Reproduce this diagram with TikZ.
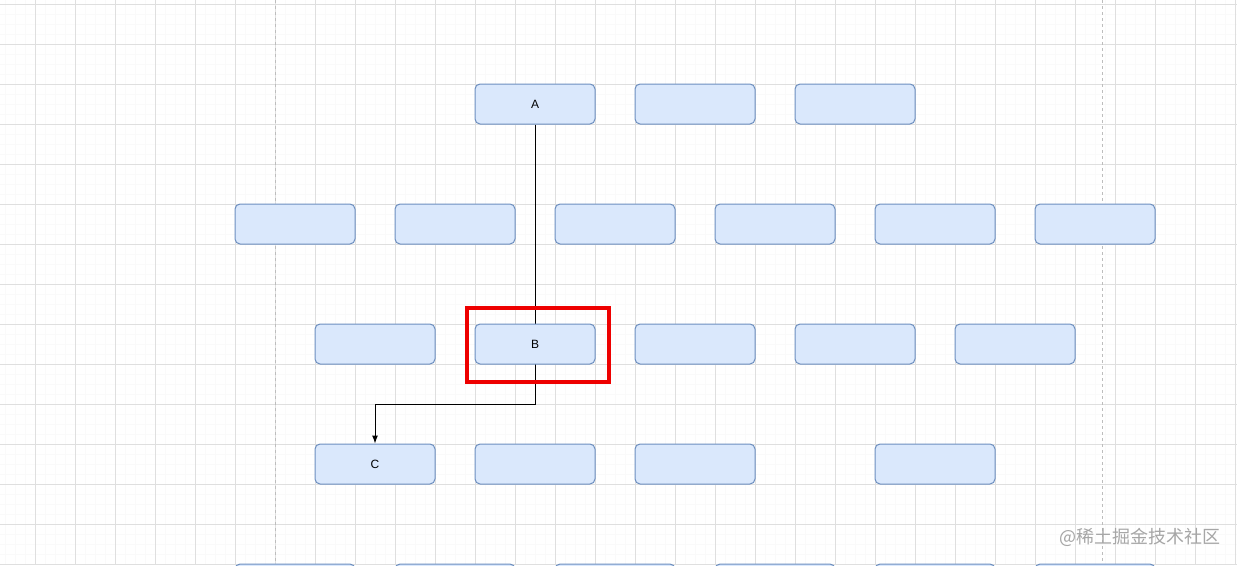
\documentclass[tikz,border=0pt]{standalone}
\usepackage{fontspec}
\setmainfont{Liberation Sans}
\newfontfamily\cjkfont{Noto Sans CJK SC}
\usepackage{xcolor}
\usepackage{tikz}
\usetikzlibrary{calc, positioning, arrows.meta}

\definecolor{boxfill}{HTML}{DAE8FC}
\definecolor{boxline}{HTML}{6C8EBF}
\definecolor{gridmajor}{HTML}{DFDFDF}
\definecolor{gridminor}{HTML}{FAFAFA}
\definecolor{pageline}{HTML}{BDBDBD}
\definecolor{markred}{HTML}{EE0000}
\definecolor{marktext}{HTML}{A6A6A6}

\begin{document}
\begin{tikzpicture}[>={Latex[length=8pt,width=6pt]}, x=1pt, y=-1pt,
    box/.style={draw=boxline, fill=boxfill, line width=1pt, rounded corners=5pt,
        minimum width=120pt, minimum height=40pt, inner sep=0pt,
        font=\fontsize{12}{14}\selectfont}]
    % 1. Lưới nền
    \useasboundingbox (0,0) rectangle (1237,565);
    \fill[white] (0,0) rectangle (1237,565);
    \foreach \x in {5,15,...,1235} \draw[gridminor, line width=0.8pt] (\x,0) -- (\x,565);
    \foreach \y in {4,14,...,564} \draw[gridminor, line width=0.8pt] (0,\y) -- (1237,\y);
    \foreach \x in {35,75,...,1235} \draw[gridmajor, line width=0.9pt] (\x,0) -- (\x,565);
    \foreach \y in {4,44,...,564} \draw[gridmajor, line width=0.9pt] (0,\y) -- (1237,\y);
    \draw[pageline, dashed, line width=0.8pt] (275,0) -- (275,565);
    \draw[pageline, dashed, line width=0.8pt] (1102,0) -- (1102,565);

    % 2. Hàng 1, 2 và 4
    \node[box] (A) at (535,104) {A};
    \node[box] (r1b) at (695,104) {};
    \node[box] (r1c) at (855,104) {};
    \foreach \x [count=\i] in {295,455,615,775,935,1095}
        \node[box] (r2\i) at (\x,224) {};
    \node[box] (C) at (375,464) {C};
    \foreach \x [count=\i] in {535,695,935}
        \node[box] (r4\i) at (\x,464) {};

    % 3. Đường nối A -> C
    \coordinate (bend) at (535,404);
    \draw[->, line width=1pt] (A.south) -- (bend) -| (C.north);

    % 4. Hàng 3 và hàng 5
    \node[box] (B) at (535,344) {B};
    \foreach \x [count=\i] in {375,695,855,1015}
        \node[box] (r3\i) at (\x,344) {};
    \foreach \x [count=\i] in {295,455,615,775,935,1095}
        \node[box] (r5\i) at (\x,584) {};

    % 5. Khung đỏ và chữ mờ
    \draw[markred, line width=4pt] (467,308) rectangle (609,382);
    \node[font=\cjkfont\fontsize{18}{20}\selectfont, text=marktext] (wm) at (1140,537) {@稀土掘金技术社区};
\end{tikzpicture}
\end{document}
